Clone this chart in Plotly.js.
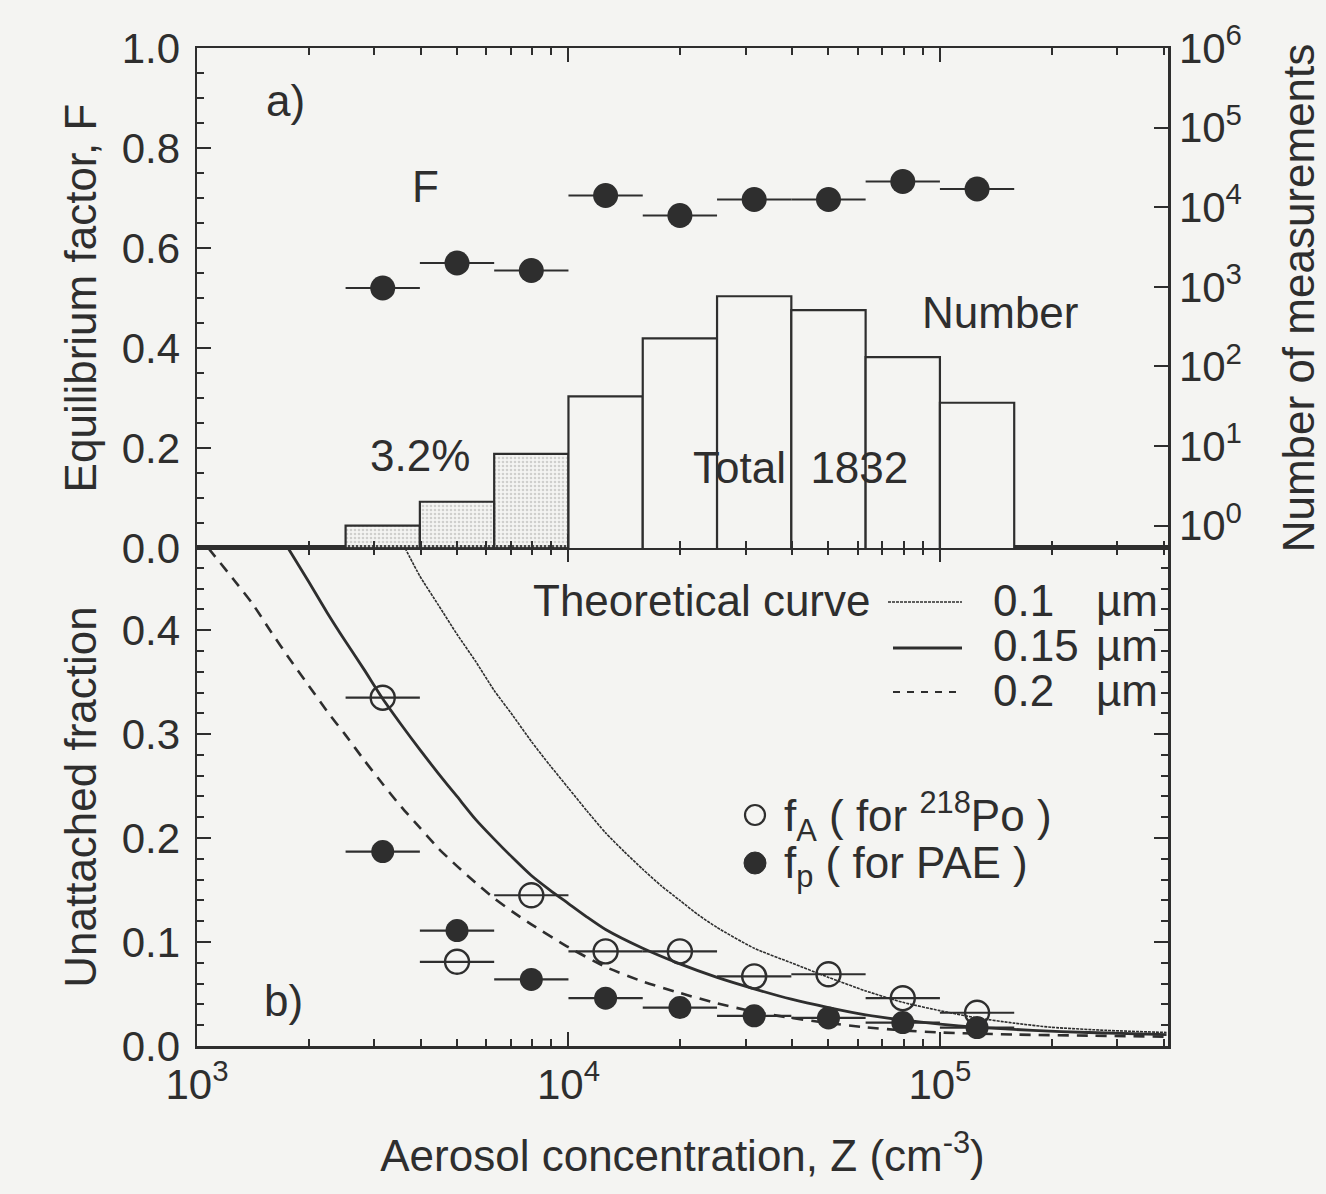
<!DOCTYPE html>
<html>
<head>
<meta charset="utf-8">
<script src="https://cdn.plot.ly/plotly-3.0.1.min.js"></script>
<style>
  html, body { margin: 0; padding: 0; background: #f4f4f2; }
  #chart { width: 1326px; height: 1194px; }
</style>
</head>
<body>
<div id="chart"></div>
<script>
// ---------- data ----------
// aerosol concentration bins (cm^-3)
const Z_CENTER = [3162, 5012, 7943, 12589, 19953, 31623, 50119, 79433, 125893];
const Z_LOW    = [2512, 3981, 6310, 10000, 15849, 25119, 39811, 63096, 100000];
const Z_HIGH   = [3981, 6310, 10000, 15849, 25119, 39811, 63096, 100000, 158489];

// panel a) equilibrium factor and number of measurements
const F_VALUES = [0.52, 0.57, 0.555, 0.705, 0.665, 0.697, 0.697, 0.733, 0.718];
const N_COUNTS = [1, 2, 8, 42, 226, 762, 509, 131, 35];
const SHADED   = [true, true, true, false, false, false, false, false, false];

// panel b) unattached fractions
const FA_VALUES = [0.335, 0.081, 0.145, 0.091, 0.091, 0.067, 0.069, 0.046, 0.032];
const FP_VALUES = [0.187, 0.111, 0.064, 0.046, 0.037, 0.029, 0.027, 0.0225, 0.0177];

// theoretical curves
const CURVE_01_Z = [3631, 3981, 4467, 5012, 5623, 6310, 7079, 7943, 8913, 10000, 11220, 12589, 14125, 15849, 17783, 19953, 22387, 25119, 31623, 39811, 50119, 63096, 79433, 100000, 125893, 158489, 199526, 281838, 407380];
const CURVE_01_F = [0.479, 0.452, 0.424, 0.396, 0.370, 0.342, 0.318, 0.293, 0.270, 0.248, 0.226, 0.205, 0.187, 0.170, 0.154, 0.140, 0.126, 0.114, 0.094, 0.080, 0.066, 0.053, 0.042, 0.034, 0.027, 0.022, 0.018, 0.015, 0.013];

const CURVE_015_Z = [1758, 1995, 2239, 2512, 2818, 3162, 3548, 3981, 4467, 5012, 5623, 6310, 7079, 7943, 8913, 10000, 11220, 12589, 15849, 19953, 25119, 31623, 39811, 50119, 63096, 79433, 100000, 125893, 177828, 251189, 407380];
const CURVE_015_F = [0.479, 0.447, 0.417, 0.389, 0.362, 0.334, 0.309, 0.285, 0.262, 0.240, 0.218, 0.199, 0.181, 0.164, 0.150, 0.137, 0.124, 0.112, 0.094, 0.079, 0.066, 0.055, 0.045, 0.037, 0.030, 0.025, 0.021, 0.018, 0.015, 0.013, 0.011];

const CURVE_02_Z = [1072, 1259, 1413, 1585, 1778, 1995, 2239, 2512, 2818, 3162, 3548, 3981, 4467, 5012, 5623, 6310, 7079, 7943, 10000, 12589, 15849, 19953, 25119, 31623, 39811, 50119, 63096, 79433, 100000, 158489, 251189, 407380];
const CURVE_02_F = [0.479, 0.448, 0.425, 0.398, 0.372, 0.347, 0.322, 0.299, 0.275, 0.252, 0.230, 0.210, 0.190, 0.173, 0.157, 0.142, 0.129, 0.117, 0.095, 0.076, 0.062, 0.051, 0.041, 0.033, 0.027, 0.022, 0.018, 0.015, 0.013, 0.011, 0.010, 0.009];

// tick labels
const X_TICK_VALS = [1000, 10000, 100000];
const X_TICK_TEXT = ['10<sup>3</sup>', '10<sup>4</sup>', '10<sup>5</sup>'];
const N_TICK_VALS = [1, 10, 100, 1000, 10000, 100000, 1000000];
const N_TICK_TEXT = ['10<sup>0</sup>', '10<sup>1</sup>', '10<sup>2</sup>', '10<sup>3</sup>', '10<sup>4</sup>', '10<sup>5</sup>', '10<sup>6</sup>'];

// ---------- styling ----------
const INK = '#2e2e2e';
const BG = '#f4f4f2';
const FONT = 'Liberation Sans, Arial, Helvetica, sans-serif';
const FS = 42;   // tick labels
const FA = 44;   // titles and annotations

// minor ticks for the log x axis (2..9 in each decade)
const X_MINOR = [];
for (let e = 3; e <= 5; e++) for (let d = 2; d <= 9; d++) X_MINOR.push(d * Math.pow(10, e));

const errPlus = Z_CENTER.map((c, i) => Z_HIGH[i] - c);
const errMinus = Z_CENTER.map((c, i) => c - Z_LOW[i]);
const binWidth = Z_LOW.map((lo, i) => Z_HIGH[i] - lo);

const traces = [
  // histogram: number of measurements (right axis, log)
  {
    type: 'bar', x: Z_LOW, y: N_COUNTS, width: binWidth, offset: 0,
    xaxis: 'x2', yaxis: 'y4',
    marker: {
      color: SHADED.map(s => s ? '#cfcfcd' : BG),
      line: { color: INK, width: 2.2 },
      pattern: {
        shape: SHADED.map(s => s ? '.' : ''),
        fgcolor: '#8a8a88', bgcolor: '#d6d6d4', size: 4, solidity: 0.35
      }
    },
    showlegend: false, hoverinfo: 'skip'
  },
  // equilibrium factor F
  {
    type: 'scatter', mode: 'markers', x: Z_CENTER, y: F_VALUES,
    xaxis: 'x2', yaxis: 'y3',
    marker: { size: 25, color: INK, line: { width: 0 } },
    error_x: { type: 'data', symmetric: false, array: errPlus, arrayminus: errMinus,
               color: INK, thickness: 2.2, width: 0 },
    showlegend: false, hoverinfo: 'skip'
  },
  // theoretical curves
  {
    type: 'scatter', mode: 'lines', x: CURVE_01_Z, y: CURVE_01_F,
    xaxis: 'x', yaxis: 'y',
    line: { color: INK, width: 1.6, dash: '3px,1px', shape: 'spline', smoothing: 0.6 },
    showlegend: false, hoverinfo: 'skip'
  },
  {
    type: 'scatter', mode: 'lines', x: CURVE_015_Z, y: CURVE_015_F,
    xaxis: 'x', yaxis: 'y',
    line: { color: INK, width: 2.8, shape: 'spline', smoothing: 0.6 },
    showlegend: false, hoverinfo: 'skip'
  },
  {
    type: 'scatter', mode: 'lines', x: CURVE_02_Z, y: CURVE_02_F,
    xaxis: 'x', yaxis: 'y',
    line: { color: INK, width: 2.6, dash: '11px,8px', shape: 'spline', smoothing: 0.6 },
    showlegend: false, hoverinfo: 'skip'
  },
  // f_A open circles
  {
    type: 'scatter', mode: 'markers', x: Z_CENTER, y: FA_VALUES,
    xaxis: 'x', yaxis: 'y',
    marker: { size: 24, color: INK, symbol: 'circle-open', line: { color: INK, width: 2.4 } },
    error_x: { type: 'data', symmetric: false, array: errPlus, arrayminus: errMinus,
               color: INK, thickness: 2.2, width: 0 },
    showlegend: false, hoverinfo: 'skip'
  },
  // f_p filled circles
  {
    type: 'scatter', mode: 'markers', x: Z_CENTER, y: FP_VALUES,
    xaxis: 'x', yaxis: 'y',
    marker: { size: 23, color: INK, line: { width: 0 } },
    error_x: { type: 'data', symmetric: false, array: errPlus, arrayminus: errMinus,
               color: INK, thickness: 2.2, width: 0 },
    showlegend: false, hoverinfo: 'skip'
  }
];

const L = 197, R = 1168, T = 48, B = 1046;
const px = v => (v - L) / (R - L);
const py = v => (B - v) / (B - T);

const tickFont = { family: FONT, size: FS, color: INK };
const titleFont = { family: FONT, size: FA, color: INK };
const baseAxis = {
  showline: true, linecolor: INK, linewidth: 2.5,
  ticks: 'inside', ticklen: 14, tickwidth: 2, tickcolor: INK,
  showgrid: false, zeroline: false, tickfont: tickFont
};

const layout = {
  width: 1326, height: 1194,
  margin: { l: L, r: 1326 - R, t: T, b: 1194 - B },
  paper_bgcolor: BG, plot_bgcolor: BG,
  font: { family: FONT, size: FS, color: INK },
  showlegend: false,
  bargap: 0,
  xaxis: Object.assign({}, baseAxis, {
    type: 'log', range: [3, 5.614], domain: [0, 1], anchor: 'y',
    tickvals: X_TICK_VALS, ticktext: X_TICK_TEXT, mirror: 'ticks',
    minor: { tickvals: X_MINOR, ticks: 'inside', ticklen: 7, tickwidth: 2, tickcolor: INK },
    title: { text: 'Aerosol concentration, Z (cm<sup>-3</sup>)', font: titleFont, standoff: 34 }
  }),
  yaxis: Object.assign({}, baseAxis, {
    domain: [0, 0.499], range: [0, 0.479], anchor: 'x',
    tickvals: [0, 0.1, 0.2, 0.3, 0.4], tickformat: '.1f', mirror: 'ticks',
    ticklabelstandoff: 6,
    minor: { dtick: 0.02, tick0: 0, ticks: 'inside', ticklen: 7, tickwidth: 2, tickcolor: INK },
    title: { text: 'Unattached fraction', font: titleFont, standoff: 12 }
  }),
  xaxis2: Object.assign({}, baseAxis, {
    type: 'log', range: [3, 5.614], domain: [0, 1], anchor: 'y3', matches: 'x',
    tickvals: X_TICK_VALS, showticklabels: false, mirror: 'ticks',
    minor: { tickvals: X_MINOR, ticks: 'inside', ticklen: 7, tickwidth: 2, tickcolor: INK }
  }),
  yaxis3: Object.assign({}, baseAxis, {
    domain: [0.499, 1], range: [0, 1], anchor: 'x2',
    tickvals: [0, 0.2, 0.4, 0.6, 0.8, 1.0], tickformat: '.1f',
    ticklabelstandoff: 6,
    minor: { dtick: 0.05, tick0: 0, ticks: 'inside', ticklen: 7, tickwidth: 2, tickcolor: INK },
    title: { text: 'Equilibrium factor, F', font: titleFont, standoff: 12 }
  }),
  yaxis4: Object.assign({}, baseAxis, {
    type: 'log', range: [-0.28, 6.0], overlaying: 'y3', side: 'right', anchor: 'x2',
    tickvals: N_TICK_VALS, ticktext: N_TICK_TEXT,
    title: { text: 'Number of measurements', font: titleFont, standoff: 42 }
  }),
  annotations: [
    { text: 'a)', x: px(285), y: py(100) },
    { text: 'F', x: px(425), y: py(187) },
    { text: '3.2%', x: px(420), y: py(455) },
    { text: 'Number', x: px(1000), y: py(312) },
    { text: 'Total  1832', x: px(800), y: py(467) },
    { text: 'b)', x: px(283), y: py(1000) },
    { text: 'Theoretical curve', x: px(872), y: py(600), xanchor: 'right' },
    { text: '0.1', x: px(991), y: py(600), xanchor: 'left' },
    { text: '0.15', x: px(991), y: py(645), xanchor: 'left' },
    { text: '0.2', x: px(991), y: py(690), xanchor: 'left' },
    { text: 'µm', x: px(1160), y: py(600), xanchor: 'right' },
    { text: 'µm', x: px(1160), y: py(645), xanchor: 'right' },
    { text: 'µm', x: px(1160), y: py(690), xanchor: 'right' },
    { text: 'f<sub>A</sub> ( for <sup>218</sup>Po )', x: px(782), y: py(817), xanchor: 'left' },
    { text: 'f<sub>p</sub> ( for PAE )', x: px(782), y: py(866), xanchor: 'left' }
  ].map(a => Object.assign({
    xref: 'paper', yref: 'paper', showarrow: false, xanchor: 'center', yanchor: 'middle',
    font: titleFont
  }, a)),
  shapes: [
    { type: 'line', xref: 'paper', yref: 'paper', x0: px(888), x1: px(962), y0: py(602), y1: py(602),
      line: { color: INK, width: 1.6, dash: '3px,1px' } },
    { type: 'line', xref: 'paper', yref: 'paper', x0: px(893), x1: px(962), y0: py(648), y1: py(648),
      line: { color: INK, width: 2.8 } },
    { type: 'line', xref: 'paper', yref: 'paper', x0: px(893), x1: px(962), y0: py(692), y1: py(692),
      line: { color: INK, width: 2.2, dash: '7px,7px' } },
    { type: 'circle', xref: 'paper', yref: 'paper', xsizemode: 'pixel', ysizemode: 'pixel',
      xanchor: px(755), yanchor: py(815), x0: -10, x1: 10, y0: -10, y1: 10,
      line: { color: INK, width: 2.2 }, fillcolor: 'rgba(0,0,0,0)' },
    { type: 'circle', xref: 'paper', yref: 'paper', xsizemode: 'pixel', ysizemode: 'pixel',
      xanchor: px(755), yanchor: py(863), x0: -11, x1: 11, y0: -11, y1: 11,
      line: { color: INK, width: 1 }, fillcolor: INK }
  ]
};

Plotly.newPlot('chart', traces, layout, { displayModeBar: false, staticPlot: true });
</script>
</body>
</html>
